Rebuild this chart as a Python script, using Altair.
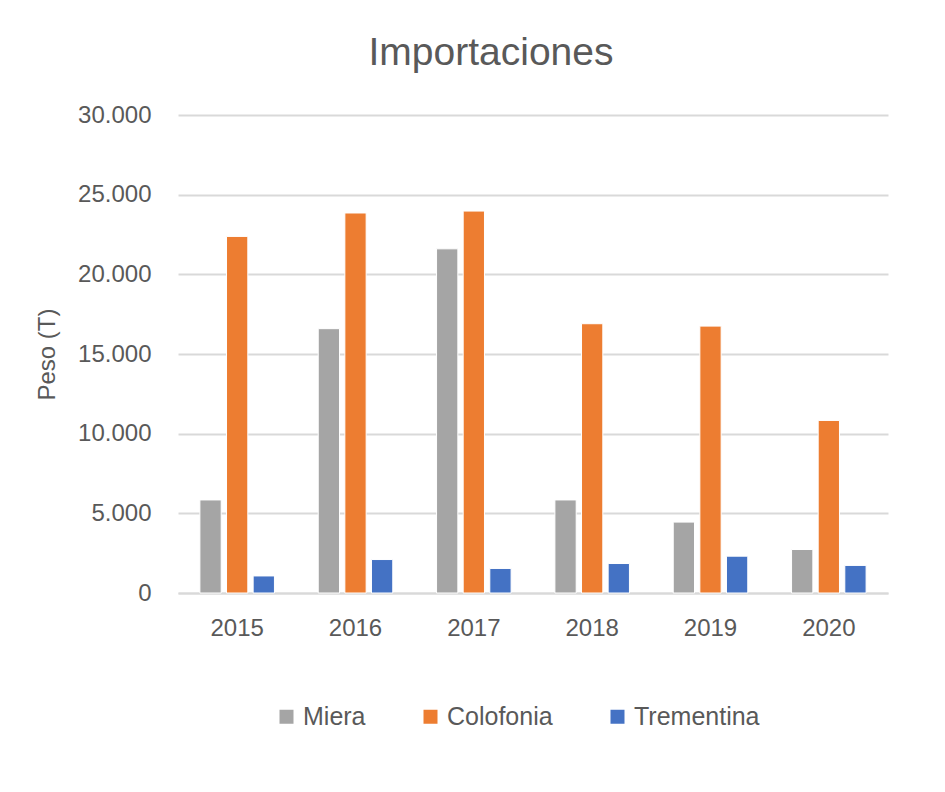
import altair as alt
import pandas as pd

years = ["2015", "2016", "2017", "2018", "2019", "2020"]
series = ["Miera", "Colofonia", "Trementina"]
miera = [5840, 16590, 21600, 5840, 4450, 2730]
colofonia = [22380, 23850, 23970, 16900, 16750, 10830]
trementina = [1070, 2100, 1540, 1850, 2310, 1730]
colors = ["#a5a5a5", "#ed7d31", "#4472c4"]
y_ticks = [0, 5000, 10000, 15000, 20000, 25000, 30000]

rows = []
for name, vals in zip(series, [miera, colofonia, trementina]):
    for yr, v in zip(years, vals):
        rows.append({"Año": yr, "Serie": name, "Peso": v})
df = pd.DataFrame(rows)

FONT = "Liberation Sans"
TXT = "#595959"

chart = alt.Chart(df).mark_bar(stroke="white", strokeWidth=1).encode(
    x=alt.X("Año:N", sort=years,
            scale=alt.Scale(paddingInner=0.37, paddingOuter=0.185),
            axis=alt.Axis(title=None, labelAngle=0, labelFontSize=24, labelColor=TXT,
                          labelFont=FONT, ticks=False, domain=True, domainColor="#d9d9d9",
                          domainWidth=2, labelPadding=23, grid=False)),
    xOffset=alt.XOffset("Serie:N", sort=series,
                        scale=alt.Scale(paddingInner=0.2, paddingOuter=0)),
    y=alt.Y("Peso:Q", scale=alt.Scale(domain=[0, 30000], nice=False),
            axis=alt.Axis(title="Peso (T)", values=y_ticks,
                          labelExpr="replace(format(datum.value, ','), ',', '.')",
                          labelFontSize=24, labelColor=TXT, labelFont=FONT,
                          ticks=False, domain=False, labelPadding=27,
                          gridColor="#d9d9d9", gridWidth=2,
                          titleFontSize=24, titleFont=FONT, titleColor=TXT,
                          titleFontWeight="normal", titleAngle=270,
                          titleX=-131, titleY=239, titleAlign="center",
                          titleBaseline="middle")),
    color=alt.Color("Serie:N", sort=series,
                    scale=alt.Scale(domain=series, range=colors),
                    legend=alt.Legend(title=None, orient="none", direction="horizontal",
                                      legendX=96, legendY=589, symbolType="square",
                                      symbolSize=196, symbolStrokeWidth=0,
                                      labelFontSize=25, labelFont=FONT, labelColor=TXT,
                                      labelOffset=4, columnPadding=52)),
).properties(
    width=710, height=478,
    title=alt.TitleParams("Importaciones", fontSize=39, font=FONT, color=TXT,
                          fontWeight="normal", anchor="middle", dx=-42, offset=30),
    autosize=alt.AutoSizeParams(type="none"),
    padding={"left": 170, "top": 107, "right": 40, "bottom": 180},
).configure(background="white").configure_view(stroke=None)

chart.save("out.html", embed_options={"renderer": "svg", "actions": False})
